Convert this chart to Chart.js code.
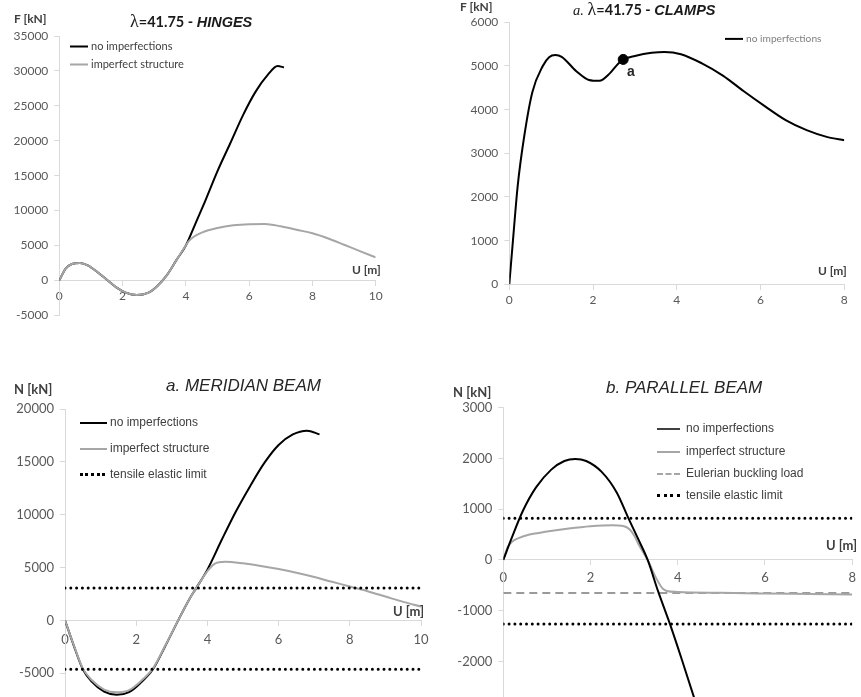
<!DOCTYPE html>
<html>
<head>
<meta charset="utf-8">
<script src="https://cdn.jsdelivr.net/npm/chart.js@4.4.1/dist/chart.umd.min.js"></script>
<style>
  html, body { margin: 0; padding: 0; background: #fff; overflow: hidden; }
  body { width: 861px; height: 697px; position: relative; font-family: Lato, sans-serif; }
  .box { position: absolute; }
  .txt { position: absolute; white-space: nowrap; transform: translateY(-50%); line-height: 1; }
  .ax { font-family: Lato, sans-serif; font-weight: bold; font-size: 12px; color: #404040; }
  .leg { position: absolute; white-space: nowrap; transform: translateY(-50%); line-height: 1; }
  .leg span.s { display: inline-block; vertical-align: middle; margin-right: 3px; }
</style>
</head>
<body>

<div class="box" style="left:0;top:0;width:400px;height:340px"><canvas id="hinges"></canvas></div>
<div class="box" style="left:430px;top:0;width:431px;height:320px"><canvas id="clamps"></canvas></div>
<div class="box" style="left:0;top:340px;width:440px;height:420px"><canvas id="meridian"></canvas></div>
<div class="box" style="left:430px;top:340px;width:431px;height:460px"><canvas id="parallel"></canvas></div>

<!-- titres et libellés des axes -->
<div class="txt" style="left:130px;top:21px;font-size:14.5px;color:#1a1a1a">
  <span style="font-family:'Liberation Serif',serif;font-size:18px">λ</span><b>=41.75 - </b><b style="font-family:'Liberation Sans',sans-serif"><i>HINGES</i></b>
</div>
<div class="txt" style="left:573px;top:9px;font-size:14.5px;color:#1a1a1a">
  <i style="font-family:'Liberation Serif',serif">a.</i> <span style="font-family:'Liberation Serif',serif;font-size:18px">λ</span><b>=41.75 - </b><b style="font-family:'Liberation Sans',sans-serif"><i>CLAMPS</i></b>
</div>
<div class="txt" style="left:166px;top:385px;font-family:'Liberation Sans',sans-serif;font-style:italic;font-size:17px;color:#262626">a. MERIDIAN BEAM</div>
<div class="txt" style="left:606px;top:387px;font-family:'Liberation Sans',sans-serif;font-style:italic;font-size:17px;color:#262626">b. PARALLEL BEAM</div>

<div class="txt ax" style="left:14px;top:19px">F [kN]</div>
<div class="txt ax" style="left:352px;top:270px">U [m]</div>
<div class="txt ax" style="left:460px;top:7px">F [kN]</div>
<div class="txt ax" style="left:818px;top:271px">U [m]</div>
<div class="txt ax" style="left:14px;top:389px;font-size:13px">N [kN]</div>
<div class="txt ax" style="left:393px;top:611px;font-size:13px">U [m]</div>
<div class="txt ax" style="left:453px;top:392px;font-size:13px">N [kN]</div>
<div class="txt ax" style="left:826px;top:545px;font-size:13px">U [m]</div>
<div class="txt" style="left:627px;top:71px;font-family:'Liberation Sans',sans-serif;font-weight:bold;font-size:14px;color:#262626">a</div>

<!-- légendes -->
<div class="leg" style="left:70px;top:45px;font-size:11px;color:#404040"><span class="s" style="width:18px;border-top:2px solid #000"></span>no imperfections</div>
<div class="leg" style="left:70px;top:63px;font-size:11px;color:#404040"><span class="s" style="width:18px;border-top:2px solid #a6a6a6"></span>imperfect structure</div>

<div class="leg" style="left:725px;top:38px;font-size:10.2px;color:#7f7f7f"><span class="s" style="width:18px;border-top:2px solid #000"></span>no imperfections</div>

<div class="leg" style="left:80px;top:422px;font-family:'Liberation Sans',sans-serif;font-size:12px;color:#404040"><span class="s" style="width:27px;border-top:2px solid #000"></span>no imperfections</div>
<div class="leg" style="left:80px;top:448px;font-family:'Liberation Sans',sans-serif;font-size:12px;color:#404040"><span class="s" style="width:27px;border-top:2px solid #a6a6a6"></span>imperfect structure</div>
<div class="leg" style="left:80px;top:474px;font-family:'Liberation Sans',sans-serif;font-size:12px;color:#404040"><span class="s" style="width:25px;border-top:3px dotted #000;margin-right:5px"></span>tensile elastic limit</div>

<div class="leg" style="left:657px;top:428px;font-family:'Liberation Sans',sans-serif;font-size:12px;color:#404040"><span class="s" style="width:23px;border-top:2px solid #404040;margin-right:6px"></span>no imperfections</div>
<div class="leg" style="left:657px;top:451px;font-family:'Liberation Sans',sans-serif;font-size:12px;color:#404040"><span class="s" style="width:23px;border-top:2px solid #a6a6a6;margin-right:6px"></span>imperfect structure</div>
<div class="leg" style="left:657px;top:473px;font-family:'Liberation Sans',sans-serif;font-size:12px;color:#404040"><span class="s" style="width:23px;border-top:2px dashed #a6a6a6;margin-right:6px"></span>Eulerian buckling load</div>
<div class="leg" style="left:657px;top:495px;font-family:'Liberation Sans',sans-serif;font-size:12px;color:#404040"><span class="s" style="width:23px;border-top:3px dotted #000;margin-right:6px"></span>tensile elastic limit</div>

<script>
// --- lambda = 41.75, hinges
const hingesPerfectU = [0, 0.2, 0.4, 0.65, 0.9, 1.2, 1.5, 1.8, 2.1, 2.45, 2.8, 3.1, 3.4, 3.7, 4.0, 4.3, 4.6, 5.0, 5.4, 5.8, 6.2, 6.6, 6.9, 7.1];
const hingesPerfectF = [0, 1700, 2350, 2500, 2150, 1200, 100, -1000, -1750, -2100, -1800, -800, 750, 2900, 5000, 8100, 11250, 15650, 19600, 23600, 27000, 29500, 30700, 30500];
const hingesImperfU = [0, 0.2, 0.4, 0.65, 0.9, 1.2, 1.5, 1.8, 2.1, 2.45, 2.8, 3.1, 3.4, 3.7, 4.0, 4.1, 4.25, 4.5, 5.0, 5.5, 6.0, 6.5, 7.0, 7.5, 8.0, 8.5, 9.0, 9.5, 10];
const hingesImperfF = [0, 1700, 2350, 2500, 2150, 1200, 100, -1000, -1750, -2100, -1800, -800, 750, 2900, 5000, 5650, 6250, 6850, 7500, 7880, 8050, 8080, 7750, 7250, 6750, 6000, 5100, 4200, 3300];

// --- lambda = 41.75, clamps
const clampsU = [0, 0.1, 0.2, 0.35, 0.55, 0.8, 0.95, 1.1, 1.25, 1.6, 1.9, 2.15, 2.4, 2.6, 2.75, 3.0, 3.4, 3.7, 4.1, 4.6, 5.1, 5.6, 6.1, 6.6, 7.1, 7.6, 8.0];
const clampsF = [0, 1150, 2250, 3350, 4400, 5000, 5200, 5250, 5210, 4880, 4680, 4660, 4830, 5050, 5160, 5230, 5300, 5320, 5270, 5060, 4780, 4420, 4080, 3760, 3530, 3370, 3300];
const clampsPointA = [2.72, 5150];

// --- meridian beam
const meridianPerfectU = [0, 0.3, 0.5, 0.75, 1.1, 1.45, 1.8, 2.1, 2.47, 2.8, 3.18, 3.5, 3.7, 4.0, 4.4, 4.8, 5.2, 5.6, 6.0, 6.4, 6.8, 7.15];
const meridianPerfectN = [0, -2900, -4630, -5800, -6750, -7050, -6800, -6000, -4630, -2550, 0, 2050, 3120, 4800, 7600, 10300, 12700, 14900, 16600, 17600, 17950, 17600];
const meridianImperfU = [0, 0.3, 0.5, 0.75, 1.1, 1.45, 1.8, 2.1, 2.47, 2.8, 3.18, 3.5, 3.7, 4.0, 4.2, 4.5, 5.0, 5.5, 6.0, 6.5, 7.0, 7.5, 8.0, 8.5, 9.0, 9.5, 10];
const meridianImperfN = [0, -2850, -4550, -5650, -6550, -6800, -6600, -5850, -4550, -2500, 0, 2050, 3120, 4650, 5350, 5550, 5400, 5150, 4850, 4500, 4100, 3650, 3200, 2750, 2250, 1750, 1300];
const meridianLimits = [3050, -4620];

// --- parallel beam
const parallelPerfectU = [0, 0.2, 0.45, 0.75, 1.1, 1.4, 1.65, 1.9, 2.25, 2.6, 2.87, 3.1, 3.31, 3.55, 3.82, 4.1, 4.4, 4.7];
const parallelPerfectN = [0, 450, 970, 1430, 1780, 1950, 1990, 1950, 1740, 1330, 820, 400, 0, -620, -1260, -1980, -2780, -3600];
const parallelImperfU = [0, 0.1, 0.2, 0.35, 0.6, 1.0, 1.5, 2.0, 2.5, 2.75, 2.9, 3.0, 3.1, 3.31, 3.5, 3.65, 3.75, 4.0, 5.0, 6.0, 7.0, 8.0];
const parallelImperfN = [0, 250, 360, 430, 500, 560, 620, 665, 685, 670, 600, 480, 310, 0, -350, -560, -610, -630, -648, -660, -670, -680];
const parallelEuler = -650;
const parallelLimits = [820, -1260];

const BLACK = '#000000';
const GREY = '#a6a6a6';
const AXIS = '#d9d9d9';
const TICK_TXT = '#595959';
const DOTS = [0, 5.8];

Chart.defaults.font.family = 'Lato, sans-serif';
Chart.defaults.animation = false;

function pts(xs, ys) {
    return xs.map((x, i) => ({ x: x, y: ys[i] }));
}

function curve(xs, ys, color, order) {
    return {
        data: pts(xs, ys),
        borderColor: color,
        borderWidth: 2,
        pointRadius: 0,
        cubicInterpolationMode: 'monotone',
        order: order
    };
}

function hline(value, xmax, color, dash, width, order, cap) {
    return {
        data: [{ x: 0, y: value }, { x: xmax, y: value }],
        borderColor: color,
        borderWidth: width,
        borderDash: dash,
        borderCapStyle: cap || 'butt',
        pointRadius: 0,
        order: order
    };
}

// construit un graphique avec la zone de tracé placée au pixel près
function makeChart(id, datasets, o) {
    return new Chart(document.getElementById(id), {
        type: 'line',
        data: { datasets: datasets },
        options: {
            responsive: true,
            maintainAspectRatio: false,
            layout: { padding: o.padding },
            plugins: { legend: { display: false }, tooltip: { enabled: false } },
            scales: {
                x: {
                    type: 'linear',
                    position: { y: 0 },
                    min: 0, max: o.xmax,
                    ticks: { stepSize: 2, color: TICK_TXT, font: { size: o.fs }, padding: o.xpad, maxRotation: 0, callback: v => String(v) },
                    grid: { drawOnChartArea: false, drawTicks: true, tickLength: 5, color: AXIS },
                    border: { color: AXIS, width: 1 }
                },
                y: {
                    type: 'linear',
                    position: 'left',
                    min: o.ymin, max: o.ymax,
                    afterFit: (s) => { s.width = o.yw; },
                    ticks: { stepSize: o.ystep, color: TICK_TXT, font: { size: o.fs }, padding: 6, callback: v => String(v) },
                    grid: { drawOnChartArea: false, drawTicks: true, tickLength: 5, color: AXIS },
                    border: { color: AXIS, width: 1 }
                }
            }
        }
    });
}

makeChart('hinges', [
    curve(hingesImperfU, hingesImperfF, GREY, 1),
    curve(hingesPerfectU, hingesPerfectF, BLACK, 2)
], { padding: { left: 0, top: 36, right: 24.3, bottom: 24.7 }, yw: 59.3, xmax: 10, ymin: -5000, ymax: 35000, ystep: 5000, fs: 12, xpad: 4 });

makeChart('clamps', [
    {
        data: [{ x: clampsPointA[0], y: clampsPointA[1] }],
        showLine: false, pointRadius: 5, pointBackgroundColor: BLACK, pointBorderColor: BLACK, order: 0
    },
    curve(clampsU, clampsF, BLACK, 1)
], { padding: { left: 20, top: 22.3, right: 16.7, bottom: 35.7 }, yw: 59.3, xmax: 8, ymin: 0, ymax: 6000, ystep: 1000, fs: 12, xpad: 4 });

makeChart('meridian', [
    hline(meridianLimits[0], 10, BLACK, DOTS, 3, 0, 'round'),
    hline(meridianLimits[1], 10, BLACK, DOTS, 3, 0, 'round'),
    curve(meridianImperfU, meridianImperfN, GREY, 1),
    curve(meridianPerfectU, meridianPerfectN, BLACK, 2)
], { padding: { left: 0, top: 69, right: 19, bottom: 34 }, yw: 65, xmax: 10, ymin: -10000, ymax: 20000, ystep: 5000, fs: 13, xpad: 7 });

makeChart('parallel', [
    hline(parallelLimits[0], 8, BLACK, DOTS, 3, 0, 'round'),
    hline(parallelLimits[1], 8, BLACK, DOTS, 3, 0, 'round'),
    curve(parallelPerfectU, parallelPerfectN, BLACK, 1),
    curve(parallelImperfU, parallelImperfN, GREY, 2),
    hline(parallelEuler, 8, '#9a9a9a', [8, 5], 2, 3)
], { padding: { left: 10, top: 67.7, right: 4.3, bottom: 37 }, yw: 63.3, xmax: 8, ymin: -4000, ymax: 3000, ystep: 1000, fs: 13, xpad: 5 });
</script>
</body>
</html>
